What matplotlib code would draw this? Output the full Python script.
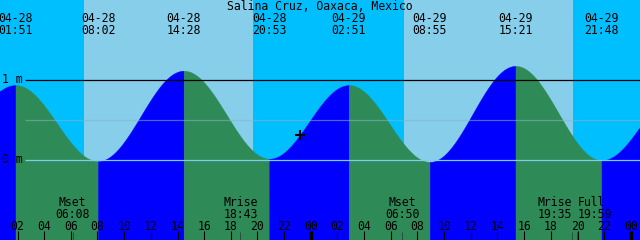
import numpy as np
import matplotlib
matplotlib.use("Agg")
import matplotlib.pyplot as plt

# ---------------- data ----------------
title = "Salina Cruz, Oaxaca, Mexico"
# tide extremes: hours after 04-28 00:00, heights (m)
ext_hours = [-4.4, 1.85, 8.033, 14.467, 20.883, 26.85, 32.917, 39.35, 45.8, 52.0]
ext_heights = [0.04, 0.93, -0.02, 1.11, 0.01, 0.93, -0.03, 1.17, -0.01, 0.93]
ext_dates = ["04-27", "04-28", "04-28", "04-28", "04-28", "04-29", "04-29", "04-29", "04-29", "04-30"]
ext_times = ["19:35", "01:51", "08:02", "14:28", "20:53", "02:51", "08:55", "15:21", "21:48", "04:00"]
# sun
sunrise_hours = [7.0, 31.0]
sunset_hours = [19.68, 43.68]
# moon events
moon_hours = [6.133, 18.717, 30.833, 43.583, 43.983]
moon_names = ["Mset", "Mrise", "Mset", "Mrise", "Full"]
moon_times = ["06:08", "18:43", "06:50", "19:35", "19:59"]
# axis
tick_hours = list(range(2, 49, 2))
tick_labels = ["%02d" % (h % 24) for h in tick_hours]
level_labels = ["1 m", "0 m"]
level_values = [1.0, 0.0]
msl_level = 0.49
now_hour = 23.2

# ---------------- layout ----------------
W, H = 640, 240
X0 = 0.6875
PX_PER_H = W / 48.0
ZERO_ROW = 159.5
PX_PER_M = 80.0
ylo = -(H - ZERO_ROW) / PX_PER_M
yhi = ZERO_ROW / PX_PER_M


def row2m(r):
    return (ZERO_ROW - r) / PX_PER_M


def px2h(p):
    return X0 + p / PX_PER_H


FONT = dict(family="DejaVu Sans Mono", fontsize=8.3, color="black")

fig = plt.figure(figsize=(6.4, 2.4), dpi=100)
ax = fig.add_axes([0, 0, 1, 1])
ax.set_xlim(X0, X0 + 48)
ax.set_ylim(ylo, yhi)
ax.axis("off")
ax.add_patch(plt.Rectangle((X0, ylo), 48, yhi - ylo, color="#00BFFF", zorder=0))

for sr, ss in zip(sunrise_hours, sunset_hours):
    ax.axvspan(sr, ss, color="#87CEEB", lw=0, zorder=1)


def curve(t):
    t = np.atleast_1d(t).astype(float)
    out = np.empty_like(t)
    for i in range(len(ext_hours) - 1):
        a, b = ext_hours[i], ext_hours[i + 1]
        m = (t >= a) & (t <= b)
        f = (1 - np.cos(np.pi * (t[m] - a) / (b - a))) / 2
        out[m] = ext_heights[i] + (ext_heights[i + 1] - ext_heights[i]) * f
    return out


for i in range(len(ext_hours) - 1):
    a, b = ext_hours[i], ext_hours[i + 1]
    t = np.linspace(a, b, 400)
    rising = ext_heights[i + 1] > ext_heights[i]
    col = "#0000FF" if rising else "#2E8B57"
    ax.fill_between(t, ylo, curve(t), color=col, lw=0.3, ec=col, zorder=2)

# level lines
xs = px2h(25)
ax.hlines(1.0, xs, X0 + 48, color="black", lw=0.9, zorder=3)
ax.hlines(msl_level, xs, X0 + 48, color=(134 / 255, 181 / 255, 201 / 255), alpha=0.55, lw=0.9, zorder=3)
ax.hlines(0.0, xs, X0 + 48, color="#7fcde6", lw=0.9, zorder=3)

for lab, v in zip(level_labels, level_values):
    ax.text(px2h(1.5), v - 3.2 / PX_PER_M, lab, ha="left", va="baseline", zorder=5, **FONT)

# title
ax.text(X0 + 24, row2m(10), title, ha="center", va="baseline", zorder=5, **FONT)

# extreme labels
for h, d, tm in zip(ext_hours, ext_dates, ext_times):
    if X0 - 2 <= h <= X0 + 50:
        ax.text(h, row2m(21.8), d, ha="center", va="baseline", zorder=5, **FONT)
        ax.text(h, row2m(34), tm, ha="center", va="baseline", zorder=5, **FONT)

# ticks
tick_top = row2m(231)
for h, lab in zip(tick_hours, tick_labels):
    lw = 2.4 if h % 24 == 0 else 0.8
    ax.vlines(h, ylo, tick_top, color="black", lw=lw, zorder=4)
    ax.text(h, row2m(230), lab, ha="center", va="baseline", zorder=5, **FONT)

# moon events
for i, (h, nm, tm) in enumerate(zip(moon_hours, moon_names, moon_times)):
    ha = "center"
    if i + 1 < len(moon_hours) and moon_hours[i + 1] - h < 1.5:
        ha = "right"
    elif i > 0 and h - moon_hours[i - 1] < 1.5:
        ha = "left"
    ax.vlines(h, ylo, row2m(232), color="#28503c", lw=0.7, zorder=4)
    ax.text(h, row2m(206.5), nm, ha=ha, va="baseline", zorder=5, **FONT)
    ax.text(h, row2m(218.2), tm, ha=ha, va="baseline", zorder=5, **FONT)

# now marker
ax.plot([now_hour], curve(now_hour), marker="+", ms=7, mew=1.5, color="black", zorder=6)

fig.savefig("out.png", dpi=100)
